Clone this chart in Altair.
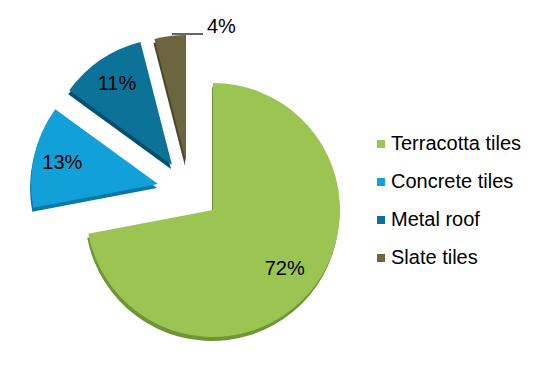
import math
import altair as alt
import pandas as pd

categories = ["Terracotta tiles", "Concrete tiles", "Metal roof", "Slate tiles"]
shares = [72, 13, 11, 4]
labels = ["72%", "13%", "11%", "4%"]

colors = ["#9CC452", "#12A0D8", "#0C7298", "#6B663F"]
dark_colors = ["#6E9536", "#0B77A6", "#07506B", "#4A4629"]

df = pd.DataFrame({"category": categories, "share": shares, "label": labels,
                   "order": list(range(len(categories)))})

# slice centres (explosion) in chart pixels
centers = {
    "Terracotta tiles": (205, 202),
    "Concrete tiles": (150, 176),
    "Metal roof": (164, 157),
    "Slate tiles": (178, 154),
}
R = 127
label_r = {"Terracotta tiles": 93, "Concrete tiles": 98, "Metal roof": 98}

theta_scale = alt.Scale(domain=[0, 100], range=[0, 2 * math.pi])
color_scale = alt.Scale(domain=categories, range=colors)

base = alt.Chart(df).transform_window(
    cum="sum(share)", sort=[alt.SortField("order")], frame=[None, 0]
).transform_calculate(
    start="datum.cum - datum.share", mid="datum.cum - datum.share / 2"
)

layers = []
# thickness (3D edge)
for i, c in enumerate(categories):
    cx, cy = centers[c]
    layers.append(
        base.transform_filter(alt.datum.category == c).mark_arc(
            outerRadius=R, strokeWidth=0, color=dark_colors[i]
        ).encode(
            theta=alt.Theta("start:Q", scale=theta_scale),
            theta2="cum:Q",
            x=alt.value(cx - 1), y=alt.value(cy + 4),
        )
    )
# faces
for i, c in enumerate(categories):
    cx, cy = centers[c]
    layers.append(
        base.transform_filter(alt.datum.category == c).mark_arc(
            outerRadius=R, strokeWidth=0
        ).encode(
            theta=alt.Theta("start:Q", scale=theta_scale),
            theta2="cum:Q",
            x=alt.value(cx), y=alt.value(cy),
            color=alt.Color(
                "category:N", scale=color_scale, sort=categories,
                legend=alt.Legend(
                    title=None, orient="none", legendX=363, legendY=126,
                    symbolType="square", symbolSize=64, symbolStrokeWidth=0,
                    labelFont="Liberation Sans", labelFontSize=20,
                    labelColor="#000000", labelOffset=0, rowPadding=18,
                    padding=0,
                ) if i == 0 else None,
            ),
        )
    )
# inside labels
for c in ["Terracotta tiles", "Concrete tiles", "Metal roof"]:
    cx, cy = centers[c]
    layers.append(
        base.transform_filter(alt.datum.category == c).mark_text(
            radius=label_r[c], font="Liberation Sans", fontSize=20,
            color="#000000", align="center", baseline="middle"
        ).encode(
            theta=alt.Theta("mid:Q", scale=theta_scale),
            x=alt.value(cx), y=alt.value(cy),
            text="label:N",
        )
    )
# outside label for the smallest slice with leader line
layers.append(
    base.transform_filter(alt.datum.category == "Slate tiles").mark_text(
        font="Liberation Sans", fontSize=20, color="#000000",
        align="left", baseline="middle"
    ).encode(x=alt.value(199), y=alt.value(19), text="label:N")
)
layers.append(
    base.transform_filter(alt.datum.category == "Slate tiles").mark_rule(
        color="#000000", strokeWidth=1.2
    ).encode(x=alt.value(164), x2=alt.value(195), y=alt.value(26))
)

chart = alt.layer(*layers).properties(
    width=523, height=350, autosize=alt.AutoSizeParams(type="none"), padding=0
).configure_view(strokeWidth=0, stroke="transparent")

chart.save("out.html", embed_options={"renderer": "svg", "actions": False})
